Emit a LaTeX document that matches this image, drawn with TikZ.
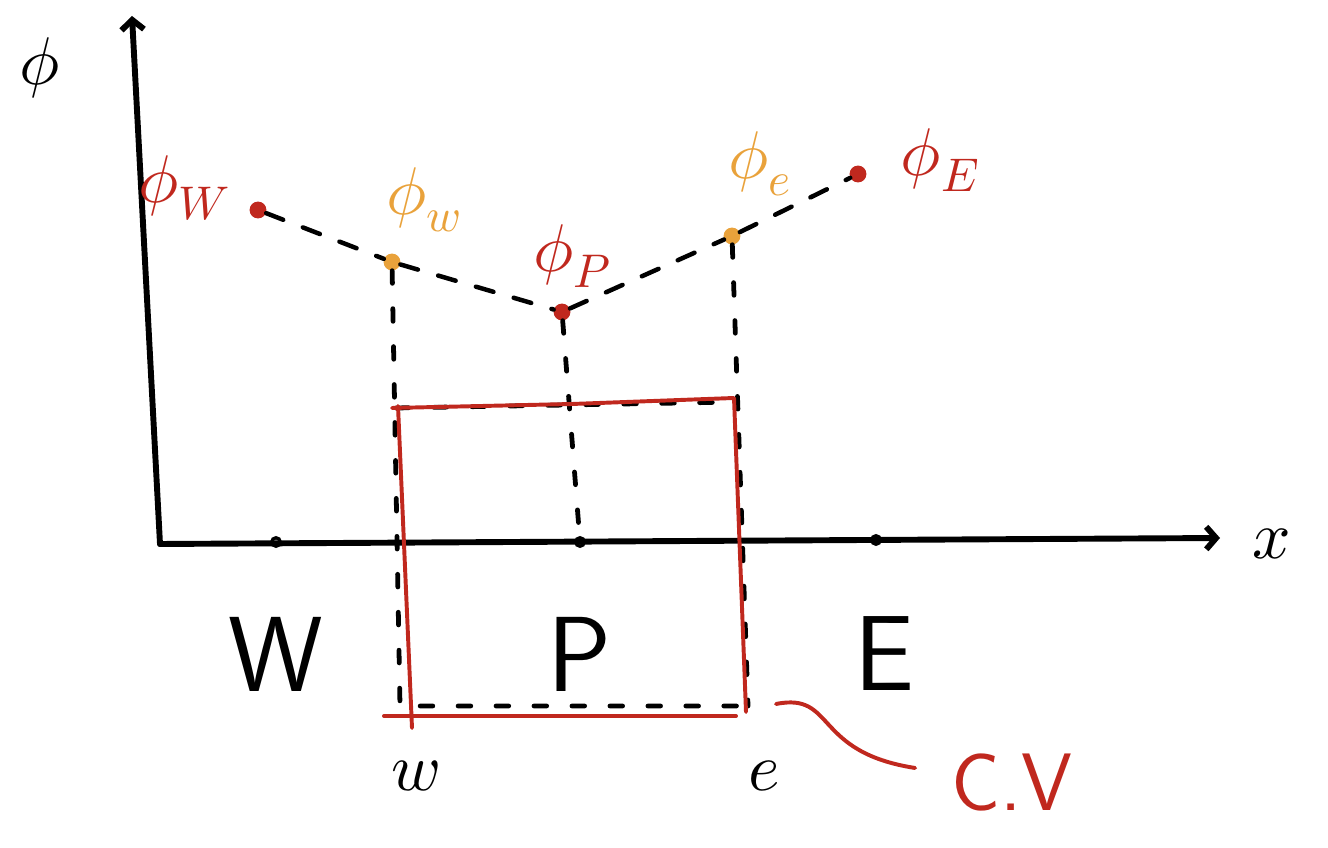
\documentclass[tikz,border=0pt]{standalone}
\usepackage{fontspec}
\usepackage{unicode-math}
\usetikzlibrary{arrows.meta, positioning, calc}
\definecolor{cvred}{HTML}{C0281E}
\definecolor{faceorange}{HTML}{E9A23B}

\begin{document}
\begin{tikzpicture}[
  font=\sffamily,
  axis/.style={line width=4.2pt, line cap=round, black},
  guide/.style={line width=3.4pt, line cap=round, black, dash pattern=on 9pt off 18pt},
  profile/.style={line width=3.2pt, line cap=round, black, dash pattern=on 13pt off 15pt},
  cv/.style={line width=2.8pt, cvred, line join=round, line cap=round},
  dot/.style={circle, fill=#1, inner sep=0pt, minimum size=12pt},
  tick/.style={circle, draw=black, line width=2.4pt, inner sep=0pt, minimum size=6pt},
  lbl/.style={inner sep=0pt, font=\fontsize{48}{48}\selectfont},
  big/.style={inner sep=0pt, font=\sffamily\fontsize{76}{76}\selectfont},
]
\useasboundingbox (0,0) rectangle (33.2,21.2);

% ---- axes ----
\coordinate (O) at (4.0,7.6);
\coordinate (ytop) at (3.3,20.8);
\coordinate (xend) at (30.5,7.75);
\draw[axis, -{Straight Barb[length=7pt, width=16pt]}] (O) -- (ytop);
\draw[axis, -{Straight Barb[length=7pt, width=16pt]}] (O) -- (xend);
\node[lbl] (phi) at (1.0,19.5) {$\phi$};
\node[lbl] (xlab) at (31.8,7.6) {$x$};

% ---- grid points on the x axis ----
\node[tick] (tW) at (6.9,7.65) {};
\node[tick] (tP) at (14.5,7.65) {};
\node[tick] (tE) at (21.9,7.7) {};
\node[big] (W) at (6.9,4.85) {W};
\node[big] (P) at (14.5,4.85) {P};
\node[big] (E) at (22.1,4.85) {E};

% ---- values of phi ----
\node[dot=cvred] (pW) at (6.45,15.95) {};
\node[dot=faceorange] (pw) at (9.8,14.65) {};
\node[dot=cvred] (pP) at (14.05,13.4) {};
\node[dot=faceorange] (pe) at (18.3,15.3) {};
\node[dot=cvred] (pE) at (21.45,16.85) {};

\node[lbl, text=cvred] (lW) at (4.6,16.5) {$\phi_W$};
\node[lbl, text=faceorange] (lw) at (10.6,16.2) {$\phi_w$};
\node[lbl, text=cvred] (lP) at (14.3,14.8) {$\phi_P$};
\node[lbl, text=faceorange] (le) at (19.0,17.1) {$\phi_e$};
\node[lbl, text=cvred] (lE) at (23.5,17.2) {$\phi_E$};

\draw[profile] (pW) -- (pw) -- (pP) -- (pe) -- (pE);

% ---- faces w and e ----
\coordinate (wb) at (10.0,3.55);
\coordinate (eb) at (18.7,3.55);
\coordinate (wt) at (9.9,11.0);
\coordinate (et) at (18.4,11.15);
\draw[guide] (pw) -- (wb) -- (eb);
\draw[guide] (pe) -- (eb);
\draw[guide] (wt) -- (et);
\draw[guide] (pP) -- (tP);

% ---- control volume ----
\draw[cv] (9.8,11.0) -- (14.3,11.1) -- (18.35,11.25) -- (18.65,3.4);
\draw[cv] (9.95,11.05) -- (10.3,3.0);
\draw[cv] (9.6,3.3) -- (18.4,3.3);
\node[lbl] (w) at (10.4,1.8) {$w$};
\node[lbl] (e) at (19.1,1.8) {$e$};

\node[lbl, text=cvred, font=\sffamily\fontsize{58}{58}\selectfont] (cvlab) at (25.3,1.65) {C.V};
\coordinate (cvtip) at (19.4,3.6);
\draw[cv] (cvtip) .. controls (20.9,3.9) and (20.3,2.4) .. ($(cvlab.west)+(-0.9,0.35)$);

\end{tikzpicture}
\end{document}
